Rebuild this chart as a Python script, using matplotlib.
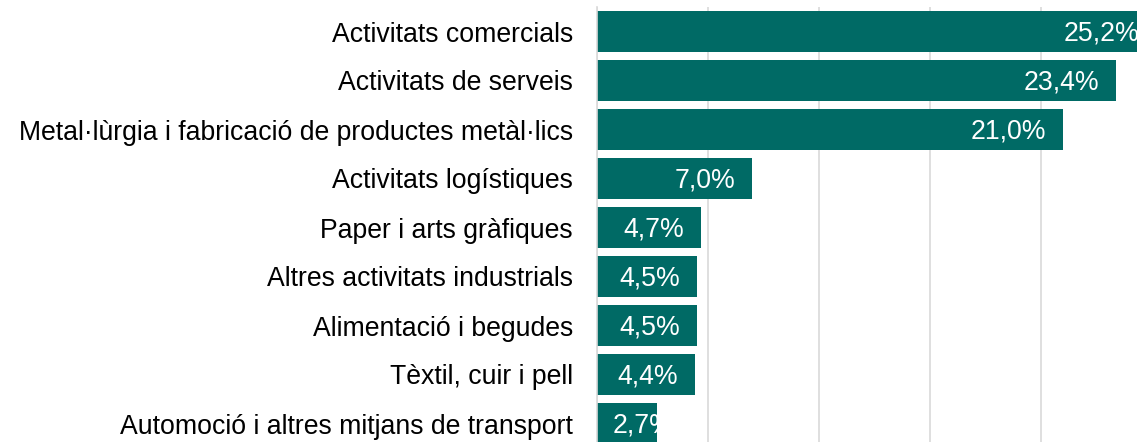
import matplotlib
matplotlib.use("Agg")
import matplotlib.pyplot as plt
from matplotlib import transforms

plt.rcParams['font.family'] = ['Liberation Sans', 'DejaVu Sans']

categories = [
    "Activitats comercials",
    "Activitats de serveis",
    "Metal·lùrgia i fabricació de productes metàl·lics",
    "Activitats logístiques",
    "Paper i arts gràfiques",
    "Altres activitats industrials",
    "Alimentació i begudes",
    "Tèxtil, cuir i pell",
    "Automoció i altres mitjans de transport",
]
values = [25.2, 23.4, 21.0, 7.0, 4.7, 4.5, 4.5, 4.4, 2.7]
value_labels = ["25,2%", "23,4%", "21,0%", "7,0%", "4,7%", "4,5%", "4,5%", "4,4%", "2,7%"]

W, H = 1137, 442
fig = plt.figure(figsize=(W / 100, H / 100), dpi=100)
left_px, top_px, bottom_px = 597, 7, 448
xmax = 30
px_per_unit = 111 / 5
width_px = xmax * px_per_unit
ax = fig.add_axes([left_px / W, (H - bottom_px) / H, width_px / W, (bottom_px - top_px) / H])

fs = 19.2
color = "#006A65"
y = list(range(len(categories)))
bars = ax.barh(y, values, height=0.84, color=color, zorder=3)
ax.set_ylim(len(categories) - 0.5, -0.5)
ax.set_xlim(0, xmax)
ax.set_yticks(y)
ax.set_yticklabels(categories, fontsize=fs, color="#000000")
ax.set_xticks([0, 5, 10, 15, 20, 25, 30])
ax.xaxis.grid(True, color="#D9D9D9", linewidth=1.2, zorder=0)
ax.tick_params(axis='x', which='both', length=0, labelbottom=False)
ax.tick_params(axis='y', length=0, pad=17.3)
for s in ["top", "right", "bottom"]:
    ax.spines[s].set_visible(False)
ax.spines["left"].set_color("#D9D9D9")
ax.spines["left"].set_linewidth(1.2)
ax.spines["left"].set_zorder(4)

for bar, v, lab in zip(bars, values, value_labels):
    yc = bar.get_y() + bar.get_height() / 2
    bar_px = v * px_per_unit
    if bar_px > 80:
        tr = transforms.offset_copy(ax.transData, fig=fig, x=-17, y=-2, units='dots')
        t = ax.text(v, yc, lab, ha='right', va='center', color='white', fontsize=fs,
                    transform=tr, zorder=5)
    else:
        tr = transforms.offset_copy(ax.transData, fig=fig, x=16, y=-2, units='dots')
        t = ax.text(0, yc, lab, ha='left', va='center', color='white', fontsize=fs,
                    transform=tr, zorder=5)
        t.set_clip_path(bar)

fig.savefig("out.png", dpi=100)
